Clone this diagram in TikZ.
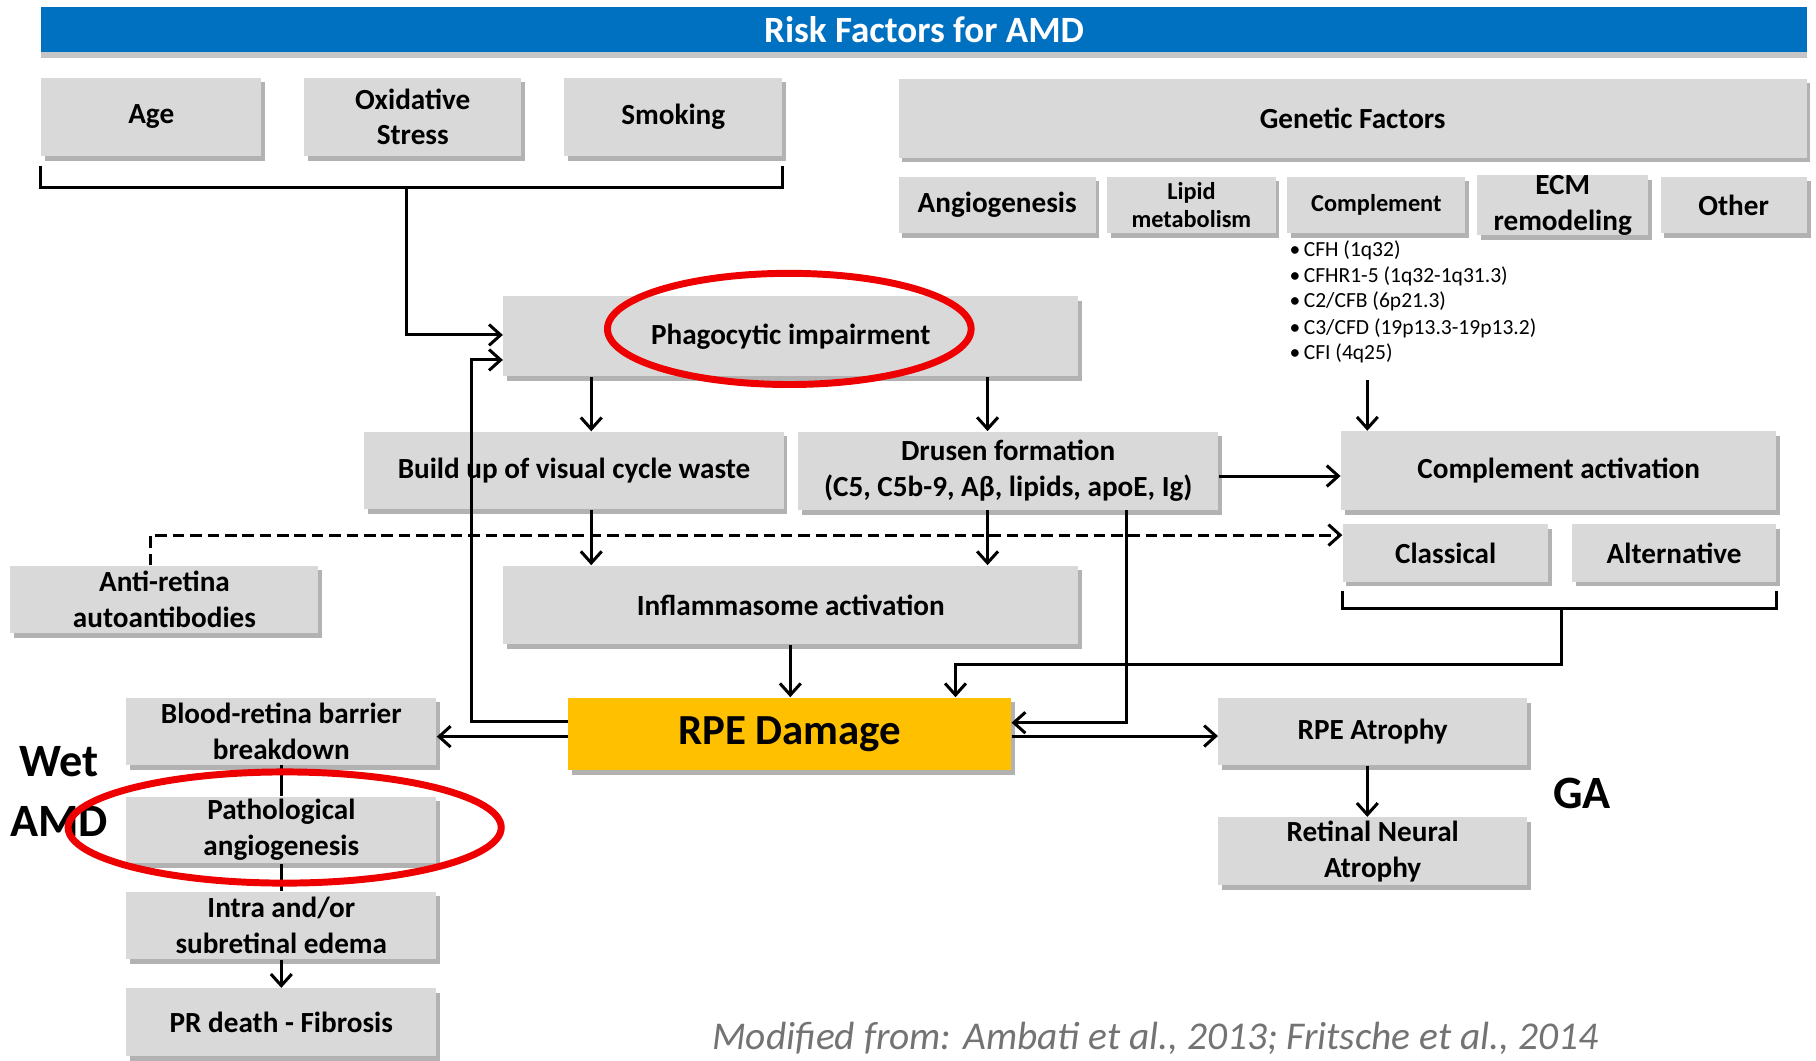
\documentclass[tikz,border=0pt]{standalone}
\usepackage{fontspec}
\setmainfont{Carlito}
\usetikzlibrary{arrows.meta,shadows}
\definecolor{boxgray}{HTML}{D9D9D9}
\definecolor{bannerblue}{HTML}{0070C0}
\definecolor{rpegold}{HTML}{FFC000}
\definecolor{ringred}{HTML}{EE0000}
\begin{document}
\begin{tikzpicture}[x=0.5pt,y=-0.5pt,
  box/.style={fill=boxgray, inner sep=0pt, align=center,
    font=\bfseries\fontsize{12.6}{15.5}\selectfont,
    drop shadow={shadow xshift=1.6pt, shadow yshift=-2pt, fill=black!55, opacity=0.55}},
  smallbox/.style={box, font=\bfseries\fontsize{10.5}{12}\selectfont},
  wh/.style 2 args={minimum width=#1*0.5pt, minimum height=#2*0.5pt},
  line/.style={draw, line width=1.3pt},
  arr/.style={line, -{Straight Barb[length=5pt,width=9pt,line width=1.3pt]}},
  dasharr/.style={arr, dash pattern=on 5pt off 2.5pt},
  ring/.style={draw=ringred, line width=3pt},
  bullet/.style={anchor=west, inner sep=0pt, font=\fontsize{9.3}{11}\selectfont},
  biglabel/.style={inner sep=0pt, align=center, font=\bfseries\fontsize{20}{26}\selectfont}
]
\fill[white] (0,0) rectangle (1568,916);
\useasboundingbox (0,0) rectangle (1568,916);

% banner
\node[fill=bannerblue, inner sep=0pt, wh={1524.3}{38.3}, text=white,
  font=\bfseries\fontsize{16}{19}\selectfont,
  drop shadow={shadow xshift=0pt, shadow yshift=-2.5pt, fill=black!45, opacity=0.5}]
  (banner) at (797.9,25.5) {Risk Factors for AMD};

% risk factor boxes
\node[box, wh={189.8}{67.7}] (age) at (130.6,100.9) {Age};
\node[box, wh={187.3}{67.7}] (ox) at (356.4,100.9) {Oxidative\\Stress};
\node[box, wh={188.5}{67.7}] (smoke) at (581.3,100.9) {Smoking};

\node[box, wh={784}{68}] (genetic) at (1168,102) {Genetic Factors};
\node[box, wh={170}{49}] (angio) at (861,177) {Angiogenesis};
\node[smallbox, wh={145.4}{49}] (lipid) at (1028.7,177) {Lipid\\metabolism};
\node[smallbox, wh={153.8}{49}] (compl) at (1188.4,177) {Complement};
\node[box, wh={147.8}{49}] (ecm) at (1349.3,177) {ECM\\remodeling};
\node[box, wh={126.3}{49}] (other) at (1496.9,177) {Other};

\node[bullet] (b1) at (1113,215.9) {•\,CFH (1q32)};
\node[bullet] (b2) at (1113,238.9) {•\,CFHR1-5 (1q32-1q31.3)};
\node[bullet] (b3) at (1113,260.5) {•\,C2/CFB (6p21.3)};
\node[bullet] (b4) at (1113,283.5) {•\,C3/CFD (19p13.3-19p13.2)};
\node[bullet] (b5) at (1113,305) {•\,CFI (4q25)};

% process boxes
\node[box, wh={496.4}{69}] (phago) at (682.8,290.5) {Phagocytic impairment};
\node[box, wh={361.8}{67}] (build) at (495.6,406.3) {Build up of visual cycle waste};
\node[box, wh={363}{67.7}] (drusen) at (870.5,406.5) {Drusen formation\\(C5, C5b-9, Aβ, lipids, apoE, Ig)};
\node[box, wh={375.8}{68}] (compact) at (1345.8,406.3) {Complement activation};
\node[box, wh={177.6}{49.7}] (classical) at (1248.2,477.4) {Classical};
\node[box, wh={176.5}{49.7}] (alt) at (1445.5,477.4) {Alternative};
\node[box, wh={266}{58.5}] (anti) at (142,517.7) {Anti-retina\\autoantibodies};
\node[box, wh={496.4}{68}] (inflam) at (682.8,522.4) {Inflammasome activation};
\node[box, fill=rpegold, wh={382.4}{62.4}, font=\bfseries\fontsize{18.5}{22}\selectfont] (rpe) at (681.8,633.6) {RPE Damage};
\node[box, wh={267.7}{58}] (blood) at (242.9,631.5) {Blood-retina barrier\\breakdown};
\node[box, wh={267.7}{57.4}] (path) at (242.9,716.7) {Pathological\\angiogenesis};
\node[box, wh={267.7}{58.3}] (intra) at (242.9,799.2) {Intra and/or\\subretinal edema};
\node[box, wh={267.7}{58.7}] (pr) at (242.9,882.7) {PR death - Fibrosis};
\node[box, wh={266.3}{57.5}] (atrophy) at (1185.2,631.8) {RPE Atrophy};
\node[box, wh={266.3}{58.4}] (retinal) at (1185.2,734.9) {Retinal Neural\\Atrophy};

% labels
\node[biglabel] (wet) at (51,683.5) {Wet\\AMD};
\node[biglabel] (ga) at (1366,685) {GA};
\node[anchor=base west, inner sep=0pt, text=black!55,
  font=\itshape\fontsize{17}{20}\selectfont] (source) at (614.5,906)
  {Modified from: Ambati et al., 2013; Fritsche et al., 2014};

% junction coordinates
\coordinate (j1) at (350.9,161.7);
\coordinate (fb1) at (407.4,623.1);
\coordinate (fb2) at (407.4,310.8);
\coordinate (cg) at (1180.6,328);
\coordinate (j2) at (1348.6,525.3);
\coordinate (j3) at (825,573.6);

% bracket under age / oxidative / smoking
\draw[line] ([yshift=-4pt]age.south west) -- ([yshift=-13.5pt]age.south west)
  -- ([yshift=-13.5pt]smoke.south east) -- ([yshift=-4pt]smoke.south east);
\draw[arr] (j1) |- (phago.west |- 0,289.2);
% feedback from RPE damage to phagocytic impairment
\draw[arr] (rpe.west |- fb1) -- (fb1) -- (fb2) -- (phago.west |- fb2);

\draw[arr] (phago.south -| 510.5,0) -- (build.north -| 510.5,0);
\draw[arr] (phago.south -| 852.7,0) -- (drusen.north -| 852.7,0);
\draw[arr] (build.south -| 510.5,0) -- (inflam.north -| 510.5,0);
\draw[arr] (drusen.south -| 852.7,0) -- (inflam.north -| 852.7,0);
\draw[arr] (drusen.east |- 0,411) -- (compact.west |- 0,411);
\draw[arr] (cg) -- (compact.north -| cg);
\draw[dasharr] (anti.north -| 130.3,0) |- (classical.west |- 0,462);
\draw[arr] (inflam.south -| 682.4,0) -- (rpe.north -| 682.4,0);

% bracket under classical / alternative
\draw[line] ([yshift=-3.6pt]classical.south west) -- ([yshift=-11.5pt]classical.south west)
  -- ([yshift=-11.5pt]alt.south east) -- ([yshift=-3.6pt]alt.south east);
\draw[arr] (j2) |- (j3) -- (rpe.north -| j3);

\draw[arr] (drusen.south -| 972.8,0) |- (rpe.east |- 0,624);
\draw[arr] (rpe.west |- 0,636) -- (blood.east |- 0,636);
\draw[arr] (rpe.east |- 0,635.5) -- (atrophy.west |- 0,635.5);
\draw[line] (blood.south) -- (path.north);
\draw[line] (path.south) -- (intra.north);
\draw[arr] (intra.south) -- (pr.north);
\draw[arr] (atrophy.south -| 1180.6,0) -- (retinal.north -| 1180.6,0);

% red rings
\draw[ring] (681.5,284) ellipse [x radius=78.5pt, y radius=24pt];
\draw[ring] (245.8,714.5) ellipse [x radius=93.5pt, y radius=24pt];
\end{tikzpicture}
\end{document}
